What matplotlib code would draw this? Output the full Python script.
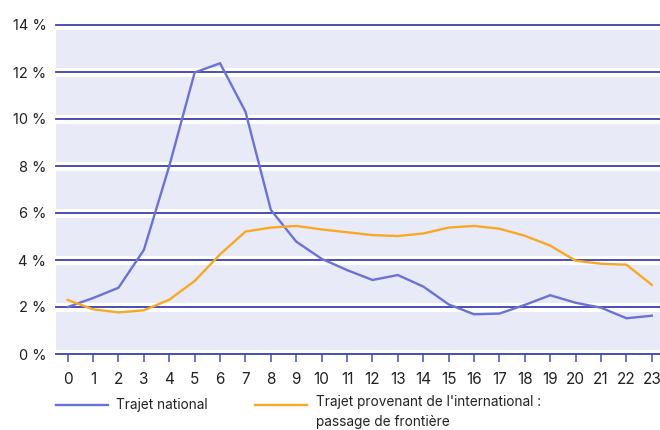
import matplotlib
matplotlib.use("Agg")
import matplotlib.pyplot as plt
from matplotlib.lines import Line2D

hours = list(range(24))
national = [2.0, 2.38, 2.82, 4.43, 8.0, 11.98, 12.37, 10.31, 6.13, 4.78, 4.05, 3.57,
            3.15, 3.36, 2.87, 2.11, 1.69, 1.72, 2.09, 2.50, 2.18, 1.97, 1.52, 1.63]
international = [2.30, 1.90, 1.77, 1.86, 2.31, 3.11, 4.24, 5.21, 5.38, 5.45, 5.30, 5.18,
                 5.06, 5.02, 5.13, 5.38, 5.45, 5.33, 5.03, 4.61, 3.97, 3.84, 3.80, 2.94]
yticks = [0, 2, 4, 6, 8, 10, 12, 14]
ytick_labels = [f"{v} %" for v in yticks]
legend_labels = ["Trajet national", "Trajet provenant de l'international :\npassage de frontière"]

BLUE = "#6a72d6"
ORANGE = "#f9a825"
GRID = "#3c40b0"
BG = "#e8eaf8"

plt.rcParams['font.family'] = ['Inter', 'DejaVu Sans']

W, H = 660, 430
fig = plt.figure(figsize=(W/100, H/100), dpi=100)
ax = fig.add_axes([56/W, (H-354)/H, (W-56)/W, (354-25)/H])
ax.set_facecolor(BG)
ax.set_xlim(-0.46, 23.32)
ax.set_ylim(0, 14)

for v in yticks:
    ax.axhline(v, color="white", lw=6.5, zorder=1, clip_on=False)
    ax.axhline(v, color=GRID, lw=1.3, zorder=2, clip_on=False)

ax.plot(hours, national, color=BLUE, lw=1.7, zorder=3, solid_joinstyle="miter")
ax.plot(hours, international, color=ORANGE, lw=1.7, zorder=3, solid_joinstyle="miter")

for s in ax.spines.values():
    s.set_visible(False)

ax.set_yticks(yticks)
ax.set_yticklabels(ytick_labels)
ax.set_xticks(hours)
ax.set_xticklabels([str(h) for h in hours])
ax.tick_params(axis='y', length=0, pad=7, labelsize=10.5, labelcolor="#222222")
ax.tick_params(axis='x', length=6, width=1.4, color=BLUE, pad=7, labelsize=11, labelcolor="#222222")

# legend
fig.add_artist(Line2D([56/W, 108/W], [(H-405)/H]*2, color=BLUE, lw=1.7))
fig.text(116/W, (H-405)/H, legend_labels[0], fontsize=9.8, color="#222222", va="center")
fig.add_artist(Line2D([255/W, 307/W], [(H-405)/H]*2, color=ORANGE, lw=1.7))
fig.text(316/W, (H-405)/H + 0.024, legend_labels[1], fontsize=9.8, color="#222222", va="top", linespacing=1.6)

fig.savefig("out.png", dpi=100)
